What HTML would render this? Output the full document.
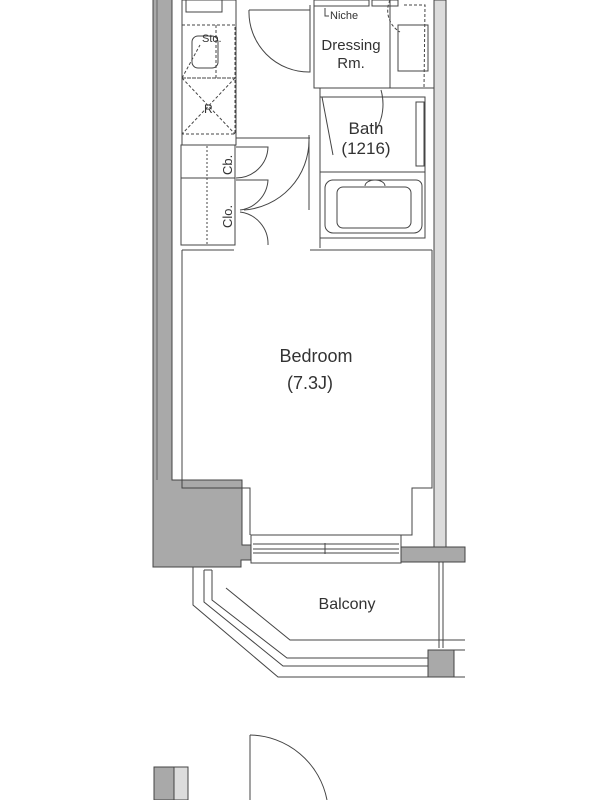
<!DOCTYPE html>
<html><head><meta charset="utf-8"><style>
html,body{margin:0;padding:0;background:#fff;width:600px;height:800px;overflow:hidden}
svg{display:block}
text{font-family:"Liberation Sans",sans-serif;fill:#333}
</style></head><body>
<svg width="600" height="800" viewBox="0 0 600 800" xmlns="http://www.w3.org/2000/svg">
<g stroke="#444" stroke-width="1" fill="none">
<path d="M153 0 V567 H241 V560 H252 V545 H242 V480 H172 V0" fill="#a9a9a9"/>
<line x1="157" y1="0" x2="157" y2="480" stroke="#666"/>
<rect x="434" y="0" width="12" height="547" fill="#dcdcdc"/>
<path d="M400 547 H465 V562 H400 Z" fill="#a9a9a9"/>
<rect x="251" y="535" width="150" height="28" fill="#fff"/>
<line x1="253" y1="544" x2="399" y2="544"/>
<line x1="253" y1="549" x2="399" y2="549"/>
<line x1="253" y1="553" x2="399" y2="553"/>
<line x1="325" y1="543" x2="325" y2="554"/>
<path d="M182 250 V488 H250 V535"/>
<path d="M182 250 H234"/>
<path d="M310 250 H432"/>
<path d="M432 250 V488 H412 V535 H400"/>
<rect x="186" y="0" width="36" height="12"/>
<rect x="182" y="0" width="54" height="145"/>
<rect x="182" y="25" width="53" height="53" stroke-dasharray="3,2"/>
<line x1="216" y1="25" x2="216" y2="78" stroke-dasharray="3,2"/>
<path d="M198 36 h14 a6 6 0 0 1 6 6 v20 a6 6 0 0 1 -6 6 h-14 a6 6 0 0 1 -6 -6 v-20 a6 6 0 0 1 6 -6z"/>
<line x1="182" y1="78" x2="200" y2="45" stroke-dasharray="3,2"/>
<rect x="182" y="78" width="53" height="56" stroke-dasharray="3,2"/>
<line x1="182" y1="78" x2="235" y2="134" stroke-dasharray="3,2"/>
<line x1="235" y1="78" x2="182" y2="134" stroke-dasharray="3,2"/>
<rect x="181" y="145" width="54" height="100"/>
<line x1="181" y1="178" x2="235" y2="178"/>
<line x1="207" y1="146" x2="207" y2="244" stroke-dasharray="2,2"/>
<path d="M236 147 H268 A32 32 0 0 1 236 178"/>
<path d="M236 180 H268 A32 32 0 0 1 240 210"/>
<path d="M240 212 A32 32 0 0 1 268 245"/>
<line x1="236" y1="138" x2="310" y2="138"/>
<line x1="309" y1="135" x2="309" y2="210"/>
<path d="M309 140 A70 70 0 0 1 244 210"/>
<path d="M249 10 H310 V72 A60 60 0 0 1 249 10"/>
<line x1="310" y1="5" x2="310" y2="72"/>
<path d="M314 5 V88 H390 V0"/>
<rect x="314" y="0" width="55" height="6"/>
<rect x="372" y="0" width="26" height="6"/>
<path d="M325 8 V16 H329"/>
<rect x="398" y="25" width="30" height="46"/>
<path d="M404 5 L425 5 L424 88" stroke-dasharray="3,2"/>
<path d="M390 0 A25 25 0 0 0 400 32" stroke-dasharray="3,2"/>
<line x1="390" y1="88" x2="434" y2="88"/>
<path d="M320 97 H425 V238 H320 Z"/>
<line x1="320" y1="88" x2="320" y2="248"/>
<line x1="320" y1="172" x2="425" y2="172"/>
<rect x="416" y="102" width="8" height="64"/>
<path d="M322 97 L333 155"/>
<path d="M381 90 A30 40 0 0 1 376 130"/>
<path d="M332 180 H416 a6 6 0 0 1 6 6 V225 a8 8 0 0 1 -8 8 H333 a8 8 0 0 1 -8 -8 V188 a8 8 0 0 1 8 -8z"/>
<path d="M343 187 H405 a6 6 0 0 1 6 6 V222 a6 6 0 0 1 -6 6 H343 a6 6 0 0 1 -6 -6 V193 a6 6 0 0 1 6 -6z"/>
<path d="M365 186 a10 6 0 0 1 20 0"/>
<path d="M193 567 V605 L278 677 H465"/>
<path d="M204 570 V602 L283 666 H428"/>
<path d="M212 570 V600 L287 658 H428"/>
<path d="M226 588 L290 640 H465"/>
<path d="M204 570 H212"/>
<line x1="439" y1="562" x2="439" y2="648"/>
<line x1="443" y1="562" x2="443" y2="648"/>
<line x1="443" y1="650" x2="465" y2="650"/>
<rect x="428" y="650" width="26" height="27" fill="#a9a9a9"/>
<path d="M250 735 A80 80 0 0 1 327 800"/>
<line x1="250" y1="735" x2="250" y2="800"/>
<rect x="154" y="767" width="20" height="33" fill="#a9a9a9"/>
<rect x="174" y="767" width="14" height="33" fill="#dcdcdc"/>
</g>
<text x="330" y="19" font-size="11">Niche</text>
<text x="202" y="42" font-size="11">Sto.</text>
<text x="204" y="113" font-size="12">R</text>
<text x="232" y="175" font-size="13" transform="rotate(-90 232 175)">Cb.</text>
<text x="232" y="228" font-size="13" transform="rotate(-90 232 228)">Clo.</text>
<text x="351" y="50" font-size="15" text-anchor="middle">Dressing</text>
<text x="351" y="68" font-size="15" text-anchor="middle">Rm.</text>
<text x="366" y="134" font-size="17" text-anchor="middle">Bath</text>
<text x="366" y="154" font-size="17" text-anchor="middle">(1216)</text>
<text x="316" y="362" font-size="18" text-anchor="middle">Bedroom</text>
<text x="310" y="389" font-size="18" text-anchor="middle">(7.3J)</text>
<text x="347" y="609" font-size="16" text-anchor="middle">Balcony</text>
</svg>
</body></html>
